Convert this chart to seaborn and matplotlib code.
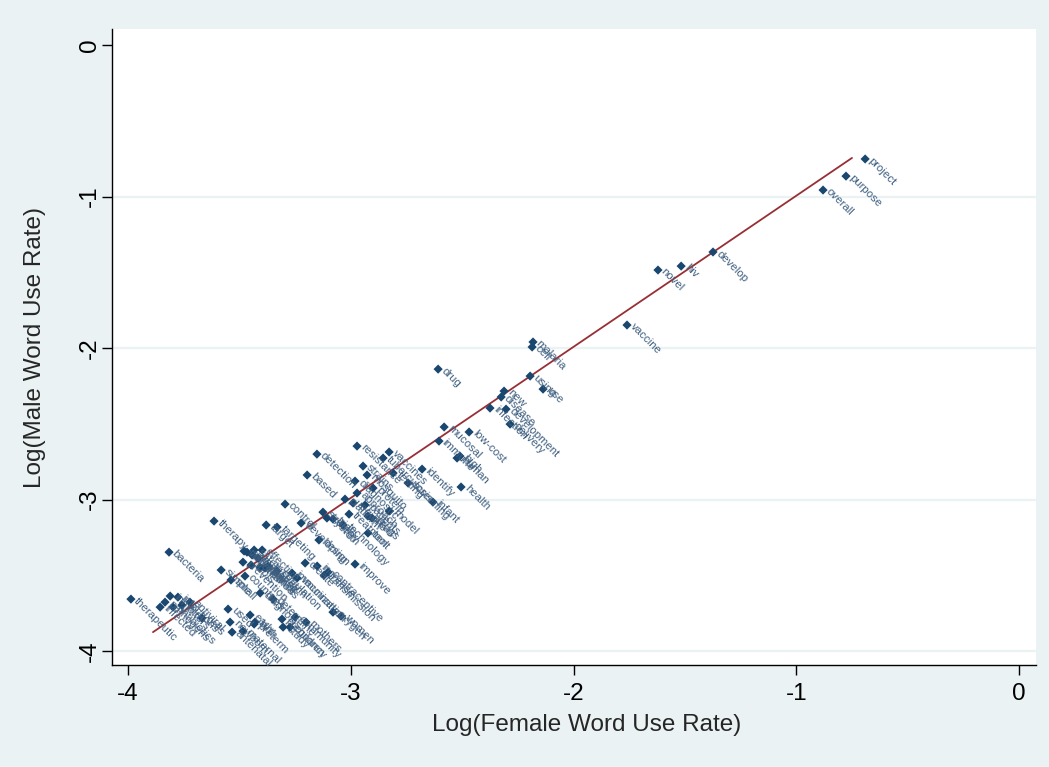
import pandas as pd
import seaborn as sns
import matplotlib.pyplot as plt

# words and their log use rates (female = x, male = y)
words = [
    "project", "purpose", "overall", "develop", "hiv", "novel", "vaccine",
    "malaria", "cell", "drug", "using", "use", "new", "disease", "infection",
    "development", "delivery", "mucosal", "low-cost", "immune", "human",
    "high", "identify", "health", "infant", "resistance", "vaccines",
    "tuberculosis", "detection", "strains", "mosquito", "testing",
    "screening", "based", "diagnostic", "protein", "approach", "platform",
    "regions", "patients", "model", "treatment", "areas", "drugs", "control",
    "strategy", "system", "trials", "technology", "tool", "design",
    "developing", "therapy", "bacteria", "therapeutic", "targeting", "target",
    "create", "increase", "contraceptive", "transmission", "improve",
    "oxygen", "women", "community", "children", "study", "vaccination",
    "immunization", "simple", "small", "used", "early", "maternal",
    "antenatal", "preterm", "inhibitors", "infections", "pathogens",
    "infected", "antibiotics", "viral", "antiviral", "cells", "determine",
    "diagnosis", "pregnancy", "mothers", "newborn", "birth", "targeted",
    "surveillance", "safety", "effective", "efficacy", "response",
    "prevention", "tools", "methods", "research", "clinical", "population",
    "countries",
]
female = [
    -0.691, -0.777, -0.880, -1.374, -1.517, -1.621, -1.760,
    -2.182, -2.186, -2.608, -2.195, -2.137, -2.312, -2.325, -2.375,
    -2.303, -2.285, -2.581, -2.469, -2.604, -2.523,
    -2.510, -2.680, -2.505, -2.631, -2.972, -2.828,
    -2.855, -3.152, -2.945, -2.927, -2.810,
    -2.743, -3.196, -2.981, -2.900, -2.972, -3.026,
    -2.990, -2.936, -2.828, -3.008, -2.923, -2.905, -3.295,
    -3.125, -3.107, -3.080, -3.035, -2.923, -3.143,
    -3.223, -3.614, -3.816, -3.987, -3.331, -3.380,
    -3.205, -3.151, -3.102, -3.120, -2.981,
    -3.080, -3.044, -3.250, -3.273, -3.304, -3.241,
    -3.264, -3.582, -3.538, -3.551, -3.452, -3.484,
    -3.533, -3.434, -3.811, -3.776, -3.834,
    -3.856, -3.798, -3.758, -3.722, -3.668, -3.349,
    -3.407, -3.309, -3.201, -3.542, -3.430, -3.479,
    -3.466, -3.434, -3.398, -3.443, -3.416,
    -3.484, -3.448, -3.407, -3.371, -3.385, -3.331,
    -3.475,
]
male = [
    -0.752, -0.865, -0.957, -1.366, -1.459, -1.485, -1.848,
    -1.960, -1.993, -2.139, -2.185, -2.271, -2.284, -2.323, -2.396,
    -2.403, -2.502, -2.521, -2.554, -2.614, -2.726,
    -2.713, -2.799, -2.917, -3.017, -2.647, -2.686,
    -2.726, -2.700, -2.779, -2.838, -2.825,
    -2.891, -2.838, -2.878, -2.924, -2.957, -2.997,
    -3.023, -3.036, -3.076, -3.096, -3.109, -3.122, -3.030,
    -3.083, -3.122, -3.129, -3.168, -3.221, -3.267,
    -3.155, -3.142, -3.347, -3.657, -3.182, -3.168,
    -3.419, -3.439, -3.479, -3.500, -3.426,
    -3.743, -3.769, -3.776, -3.842, -3.842, -3.518,
    -3.485, -3.465, -3.531, -3.723, -3.762, -3.868,
    -3.875, -3.822, -3.637, -3.644, -3.677,
    -3.710, -3.710, -3.696, -3.677, -3.782, -3.657,
    -3.617, -3.789, -3.809, -3.809, -3.809, -3.340,
    -3.347, -3.333, -3.333, -3.366, -3.386,
    -3.413, -3.432, -3.446, -3.439, -3.452, -3.472,
    -3.505,
]

# ends of the fitted line
fit_x = [-3.888, -0.750]
fit_y = [-3.875, -0.745]

axis_ticks = [-4, -3, -2, -1, 0]

df = pd.DataFrame({"word": words, "female": female, "male": male})

sns.set_style("white")
plt.rcParams["font.family"] = ["Liberation Sans", "DejaVu Sans"]
plt.rcParams["axes.unicode_minus"] = False

bg = "#EAF2F3"
navy = "#1a476f"

fig = plt.figure(figsize=(10.49, 7.67), dpi=100, facecolor=bg)
ax = fig.add_axes([112 / 1049, 1 - 665 / 767, 924 / 1049, 636 / 767])
ax.set_facecolor("white")

sns.scatterplot(data=df, x="female", y="male", marker="D", s=22,
                color=navy, edgecolor="none", ax=ax, zorder=3)
sns.lineplot(x=fit_x, y=fit_y, color="#982f35", lw=1.3, ax=ax, zorder=2)

for w, fx, my in zip(df["word"], df["female"], df["male"]):
    ax.annotate(w, (fx, my), xytext=(3.5, 0), textcoords="offset points",
                ha="left", va="center", rotation=-45, rotation_mode="anchor",
                fontsize=8.2, color="#3e5f80", zorder=4)

ax.set_xlim(-4.072, 0.076)
ax.set_ylim(-4.092, 0.106)
ax.set_xticks(axis_ticks)
ax.set_yticks(axis_ticks)

ax.yaxis.grid(True, color=bg, lw=1.6)
ax.xaxis.grid(False)
ax.get_ygridlines()[-1].set_visible(False)
ax.set_axisbelow(True)

for side in ["top", "right"]:
    ax.spines[side].set_visible(False)
for side in ["left", "bottom"]:
    ax.spines[side].set_color("black")
    ax.spines[side].set_linewidth(1)

ax.tick_params(direction="out", length=7, width=1, labelsize=17.5,
               colors="black", left=True, bottom=True)
ax.tick_params(axis="x", pad=6)
ax.tick_params(axis="y", pad=1, labelrotation=90)
plt.setp(ax.get_yticklabels(), va="center")

ax.set_xlabel("Log(Female Word Use Rate)", fontsize=17.5, va="center")
ax.set_ylabel("Log(Male Word Use Rate)", fontsize=17.5, va="center")
ax.xaxis.set_label_coords(0.514, -0.094)
ax.yaxis.set_label_coords(-0.083, 0.5)

fig.savefig("out.png", dpi=100, facecolor=bg)
